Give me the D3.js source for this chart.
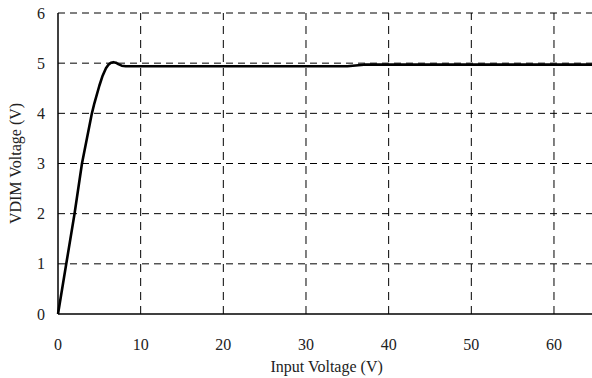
<!DOCTYPE html>
<html>
<head>
<meta charset="utf-8">
<script src="https://cdn.jsdelivr.net/npm/d3@7"></script>
<style>
  body { margin: 0; background: #fff; }
  text { font-family: 'Liberation Serif', 'DejaVu Serif', serif; }
</style>
</head>
<body>
<div id="chart"></div>
<script>
const vin  = [0, 1, 2, 2.9, 4.1, 4.4, 5.0, 5.4, 5.8, 6.1, 6.4, 6.7, 7.0, 7.3, 7.7, 8.2, 10, 35, 37, 64.6];
const vdim = [0, 1.0, 2.0, 3, 4, 4.2, 4.55, 4.75, 4.9, 4.97, 5.01, 5.02, 5.01, 4.98, 4.95, 4.94, 4.94, 4.94, 4.97, 4.97];
const xTicks = [0, 10, 20, 30, 40, 50, 60];
const yTicks = [0, 1, 2, 3, 4, 5, 6];

const W = 592, H = 378;
const margin = {top: 13, right: 0, bottom: 64, left: 58};

const svg = d3.select('#chart').append('svg')
    .attr('width', W)
    .attr('height', H);

const x = d3.scaleLinear().domain([0, 64.6]).range([margin.left, W - margin.right]);
const y = d3.scaleLinear().domain([0, 6]).range([H - margin.bottom, margin.top]);

// grid
svg.append('g').selectAll('line')
    .data(yTicks.filter(d => d > 0))
    .enter().append('line')
    .attr('x1', x(0)).attr('x2', W)
    .attr('y1', d => y(d)).attr('y2', d => y(d))
    .attr('stroke', '#000')
    .attr('stroke-width', 1)
    .attr('stroke-dasharray', '7,5');

svg.append('g').selectAll('line')
    .data(xTicks.filter(d => d > 0))
    .enter().append('line')
    .attr('x1', d => x(d)).attr('x2', d => x(d))
    .attr('y1', y(0)).attr('y2', y(6))
    .attr('stroke', '#000')
    .attr('stroke-width', 1)
    .attr('stroke-dasharray', '8,6');

// axes lines
svg.append('line')
    .attr('x1', x(0)).attr('x2', x(0))
    .attr('y1', y(0)).attr('y2', y(6))
    .attr('stroke', '#000').attr('stroke-width', 1.5);
svg.append('line')
    .attr('x1', x(0)).attr('x2', W)
    .attr('y1', y(0)).attr('y2', y(0))
    .attr('stroke', '#000').attr('stroke-width', 1.5);

// tick labels
svg.append('g').selectAll('text')
    .data(xTicks)
    .enter().append('text')
    .attr('x', d => x(d))
    .attr('y', 350)
    .attr('text-anchor', 'middle')
    .attr('font-size', 16)
    .attr('fill', '#222')
    .text(d => d);

svg.append('g').selectAll('text')
    .data(yTicks)
    .enter().append('text')
    .attr('x', 45)
    .attr('y', d => y(d))
    .attr('dy', '0.35em')
    .attr('text-anchor', 'end')
    .attr('font-size', 16)
    .attr('fill', '#222')
    .text(d => d);

// titles
svg.append('text')
    .attr('x', x(32.5))
    .attr('y', 372)
    .attr('text-anchor', 'middle')
    .attr('font-size', 16)
    .attr('fill', '#222')
    .text('Input Voltage (V)');

svg.append('text')
    .attr('transform', `translate(21,${(y(0) + y(6)) / 2}) rotate(-90)`)
    .attr('text-anchor', 'middle')
    .attr('font-size', 16)
    .attr('fill', '#222')
    .text('VDIM Voltage (V)');

// curve
const line = d3.line()
    .x((d, i) => x(vin[i]))
    .y(d => y(d))
    .curve(d3.curveLinear);

svg.append('path')
    .datum(vdim)
    .attr('d', line)
    .attr('fill', 'none')
    .attr('stroke', '#000')
    .attr('stroke-width', 2.6)
    .attr('stroke-linejoin', 'round');
</script>
</body>
</html>
